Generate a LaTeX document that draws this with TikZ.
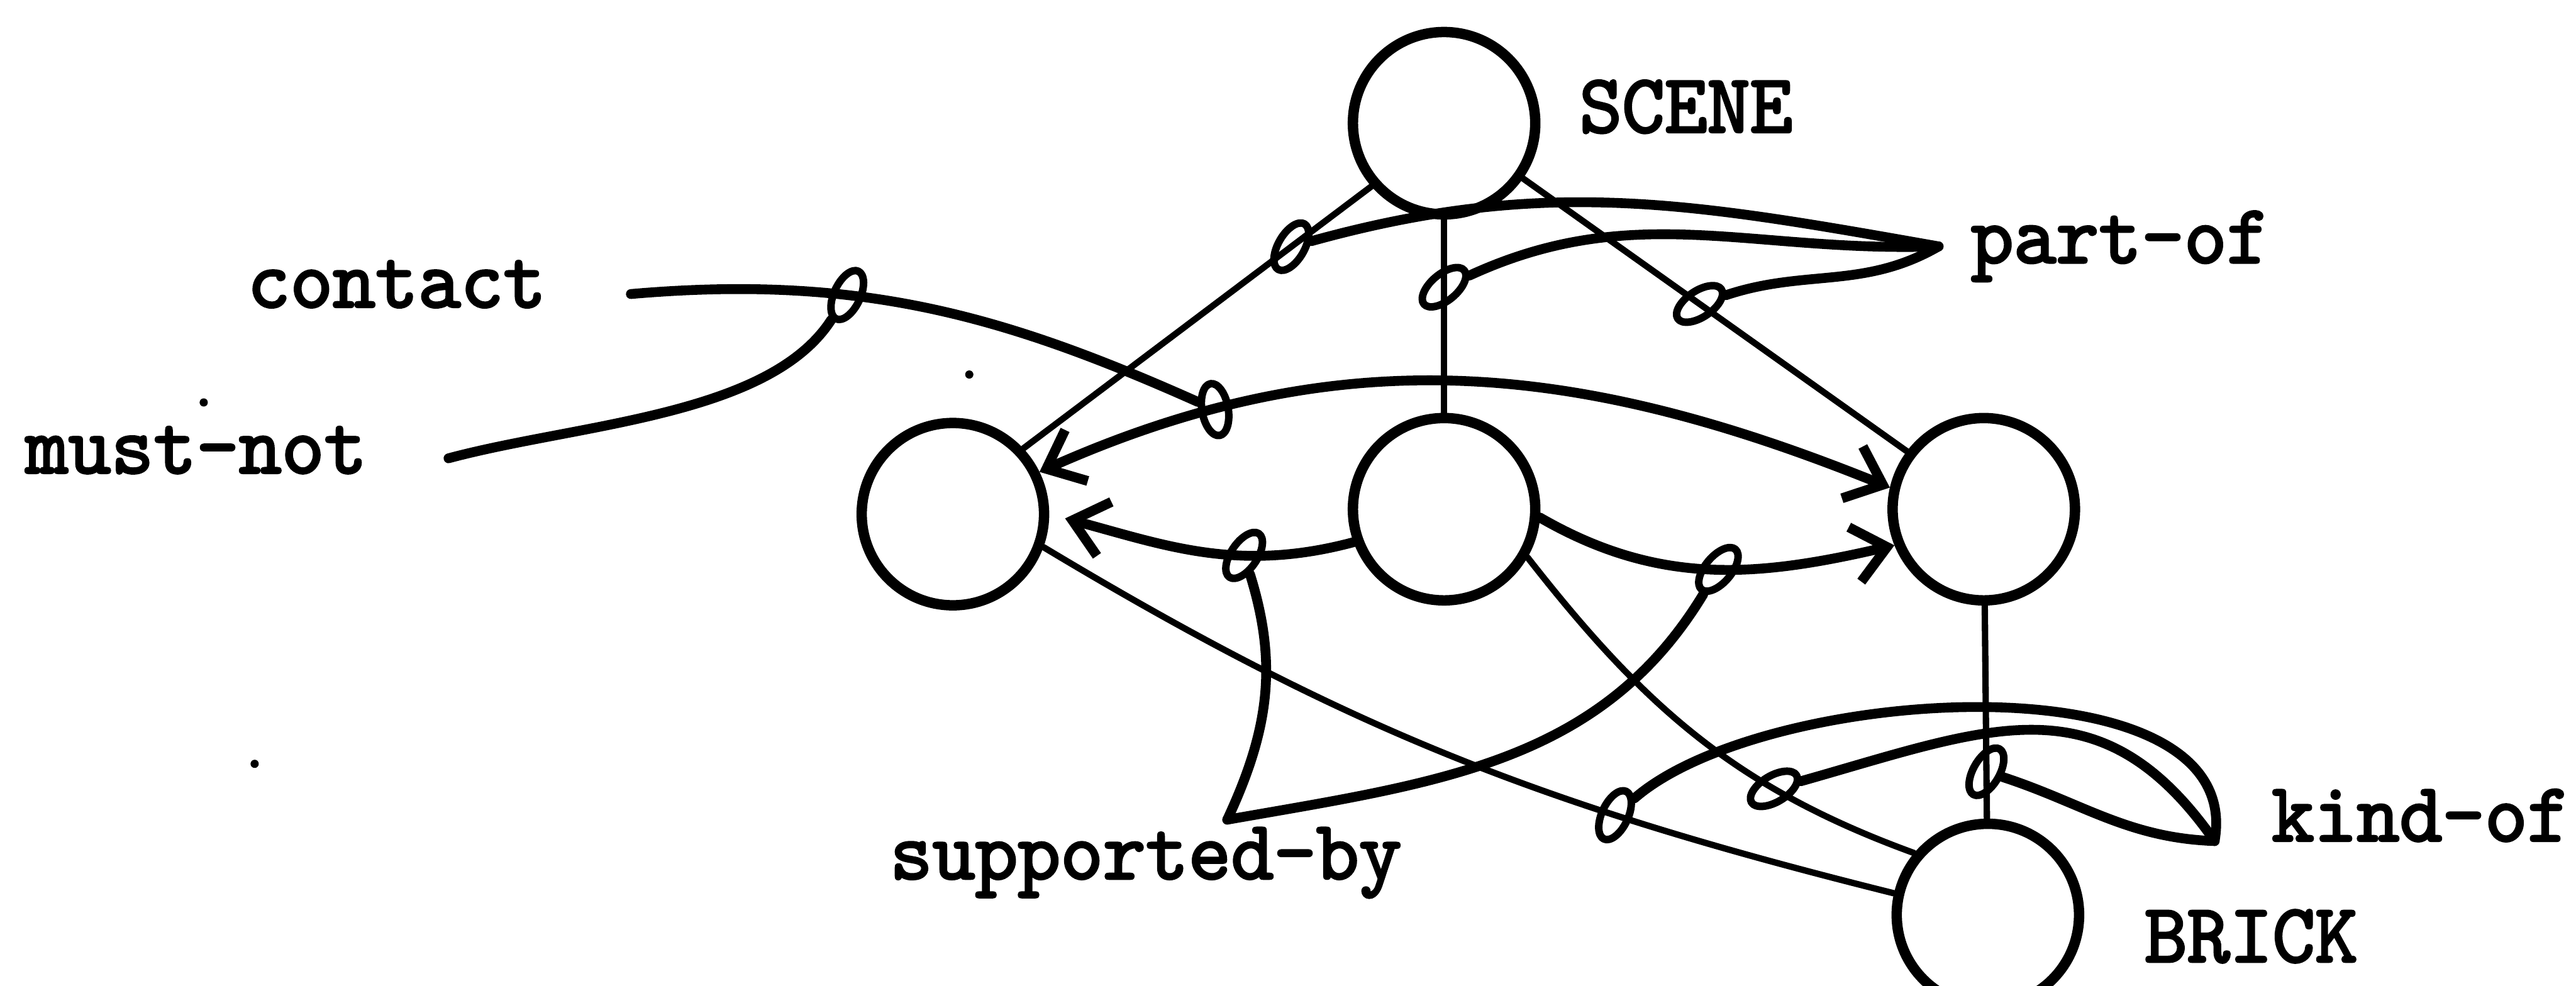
\documentclass[tikz,border=0pt]{standalone}
\usepackage{fontspec}
\newfontfamily\netfont{lmmono10-regular}[Extension=.otf, FakeBold=2.6, FakeStretch=0.97]
\usetikzlibrary{arrows.meta, positioning, shapes.geometric}

\tikzset{
  obj/.style={circle, draw, line width=1.8pt, minimum size=11.1mm, inner sep=0pt},
  tie/.style={ellipse, draw, line width=1.3pt, minimum width=3.2mm, minimum height=1.6mm, inner sep=0pt},
  spoke/.style={line width=1.1pt},
  link/.style={line width=1.7pt},
  rel/.style={font=\netfont\fontsize{14.5pt}{14.5pt}\selectfont, inner sep=0pt, anchor=base west},
}

\begin{document}
\begin{tikzpicture}[>={Straight Barb[length=2mm,width=3.4mm]}, line cap=round, line join=round]
\useasboundingbox (0,0) rectangle (15.68,6);

% objects
\node[obj] (scene) at (8.79,5.25) {};
\node[obj] (lft) at (5.80,2.87) {};
\node[obj] (mid) at (8.79,2.90) {};
\node[obj] (rgt) at (12.075,2.90) {};
\node[obj] (brick) at (12.10,0.43) {};
\node[rel, right=2.3mm of scene, yshift=1mm] (scenename) {SCENE};
\node[rel, right=3.6mm of brick, yshift=-1.3mm] (brickname) {BRICK};

% relation names
\node[rel] (contact) at (1.50,4.13) {contact};
\node[rel] (mustnot) at (0.15,3.12) {must-not};
\node[rel] (partof) at (11.99,4.40) {part-of};
\node[rel] (supported) at (5.41,0.65) {supported-by};
\node[rel] (kindof) at (13.82,0.88) {kind-of};
\coordinate (c0) at (3.84,4.21);
\coordinate (m0) at (2.73,3.21);
\coordinate (p0) at (11.80,4.50);
\coordinate (s0) at (7.47,1.01);
\coordinate (k0) at (13.48,0.88);

% thin links
\draw[spoke] (scene.221) -- node[tie, pos=.23, rotate=60] (pa) {} (lft.43);
\draw[spoke] (scene) -- node[tie, pos=.35, rotate=40] (pb) {} (mid);
\draw[spoke] (scene.-35) -- node[tie, pos=.46, rotate=34] (pc) {} (rgt.143);
\draw[spoke] (rgt) -- node[tie, pos=.78, rotate=60] (kc) {} (brick);
\draw[spoke] (mid.-30) to[out=-52, in=160] node[tie, pos=.7, rotate=31] (kb) {} (brick.140);
\draw[spoke] (lft.-20) to[out=-31, in=166] node[tie, pos=.7, rotate=65] (ka) {} (brick.167);

% arrows between the parts
\draw[link, <->] (lft.26) to[out=24, in=158] node[tie, pos=.2, rotate=100] (ct) {} (rgt.167);
\draw[link, ->, shorten >=1mm] (mid.200) to[out=195, in=-15] node[tie, pos=.35, rotate=56] (sa) {} (lft.0);
\draw[link, ->] (mid.-5) to[out=-30, in=193] node[tie, pos=.52, rotate=50] (sb) {} (rgt.202);

% relation lines
\draw[link] (c0) to[out=5, in=150] node[tie, pos=.35, rotate=65] (mn) {} (ct);
\draw[link] (m0) to[out=15, in=-130, looseness=.8] (mn);
\draw[link] (p0) to[out=170, in=10] (pa);
\draw[link] (p0) to[out=182, in=20] (pb);
\draw[link] (p0) to[out=210, in=10] (pc);
\draw[link] (s0) to[out=65, in=-80] (sa);
\draw[link] (s0) to[out=10, in=235] (sb);
\draw[link] (k0) to[out=80, in=35, looseness=.8] (ka);
\draw[link] (k0) to[out=125, in=12, looseness=1.2] (kb);
\draw[link] (k0) to[out=178, in=-30] (kc);

% specks
\fill (5.90,3.72) circle (0.025);
\fill (1.55,1.35) circle (0.025);
\fill (1.24,3.55) circle (0.025);
\end{tikzpicture}
\end{document}
